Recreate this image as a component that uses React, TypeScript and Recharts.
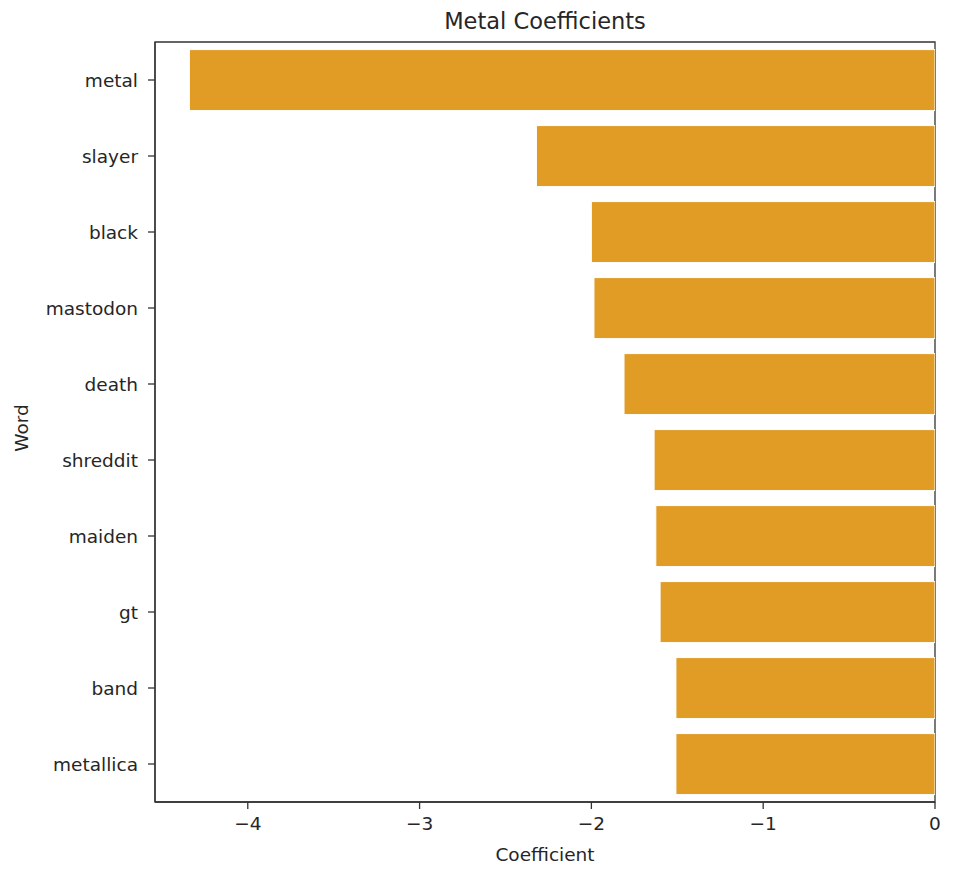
import React from "react";
import { BarChart, Bar, XAxis, YAxis, ReferenceArea, Label } from "recharts";

const words = ["metal", "slayer", "black", "mastodon", "death", "shreddit", "maiden", "gt", "band", "metallica"];
const coefficients = [-4.34, -2.32, -2.0, -1.985, -1.81, -1.635, -1.625, -1.6, -1.508, -1.508];
const xTicks = [-4, -3, -2, -1, 0];

const data = words.map((word, i) => ({ word, coef: coefficients[i] }));

const FONT = "'DejaVu Sans', sans-serif";
const TEXT = "#262626";
const AXIS = "#333333";
const X_MIN = -4.54;

const minus = (v: number) => String(v).replace("-", "\u2212");

const MetalChart = () => {
  return (
    <div style={{ fontFamily: FONT }}>
      <BarChart
        width={944}
        height={860}
        data={data}
        layout="vertical"
        barCategoryGap="10%"
        margin={{ top: 34, right: 17, left: 0, bottom: 0 }}
      >
        <XAxis
          type="number"
          domain={[X_MIN, 0]}
          ticks={xTicks}
          allowDataOverflow
          tickFormatter={minus}
          tickSize={7}
          tickMargin={8}
          height={66}
          stroke={AXIS}
          strokeWidth={1.3}
          tick={{ fill: TEXT, fontSize: 18.5, fontFamily: FONT }}
        >
          <Label
            content={({ viewBox }: any) => (
              <text
                x={viewBox.x + viewBox.width / 2}
                y={viewBox.y + 59}
                textAnchor="middle"
                fill={TEXT}
                fontSize={18.5}
                fontFamily={FONT}
              >
                Coefficient
              </text>
            )}
          />
        </XAxis>
        <YAxis
          type="category"
          dataKey="word"
          width={147}
          tickSize={7}
          tickMargin={10}
          stroke={AXIS}
          strokeWidth={1.3}
          tick={{ fill: TEXT, fontSize: 18.5, fontFamily: FONT }}
        >
          <Label
            content={({ viewBox }: any) => {
              const x = viewBox.x + 20;
              const y = viewBox.y + viewBox.height / 2 + 6;
              return (
                <text
                  x={x}
                  y={y}
                  transform={`rotate(-90, ${x}, ${y})`}
                  textAnchor="middle"
                  fill={TEXT}
                  fontSize={18.5}
                  fontFamily={FONT}
                >
                  Word
                </text>
              );
            }}
          />
        </YAxis>
        <Bar dataKey="coef" fill="#e09c24" stroke="#ffffff" strokeWidth={1} isAnimationActive={false} />
        <ReferenceArea x1={X_MIN} x2={0} fill="none" stroke={AXIS} strokeWidth={1.3} fillOpacity={0}>
          <Label
            content={({ viewBox }: any) => (
              <text
                x={viewBox.x + viewBox.width / 2}
                y={viewBox.y - 13}
                textAnchor="middle"
                fill={TEXT}
                fontSize={22.5}
                fontFamily={FONT}
              >
                Metal Coefficients
              </text>
            )}
          />
        </ReferenceArea>
      </BarChart>
    </div>
  );
};

export default function App() {
  return <MetalChart />;
}
